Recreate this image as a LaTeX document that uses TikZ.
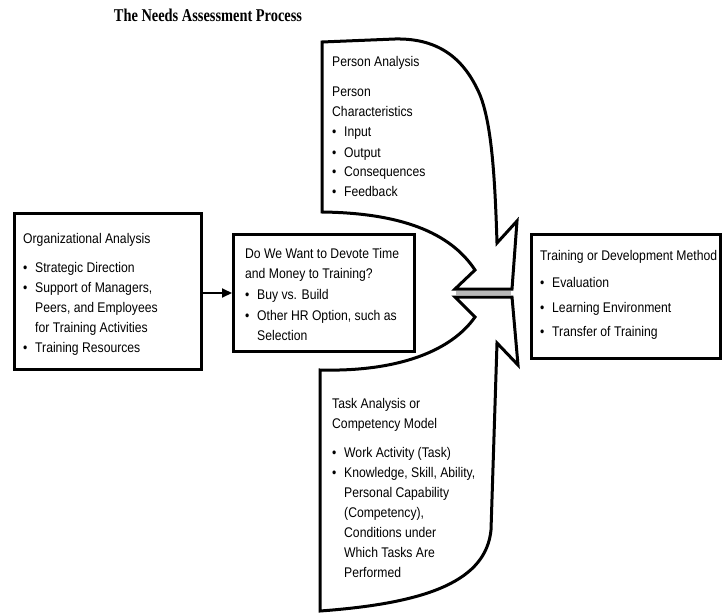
\documentclass[tikz,border=0pt]{standalone}
\usepackage{fontspec}
\usetikzlibrary{arrows.meta}
\newfontfamily\lblfont[FakeStretch=0.87]{Liberation Sans}
\newfontfamily\ttlfont[FakeStretch=0.8]{Liberation Serif}
% bullet item and hanging continuation line
\newcommand\bu[1]{\makebox[12pt][l]{\textbullet}#1}
\newcommand\hang[1]{\hspace*{12pt}#1}
% text block whose base anchor is the first line's baseline
\newcommand\blk[1]{\begin{tabular}[t]{@{}l@{}}#1\end{tabular}}
\begin{document}
\begin{tikzpicture}[x=1pt,y=-1pt,
  frame/.style={draw=black,line width=3pt,inner sep=0pt,anchor=north west},
  outline/.style={draw=black,line width=3pt,line join=miter,fill=white},
  lbl/.style={anchor=base west,inner sep=0pt,font=\lblfont\fontsize{14}{20}\selectfont},
  ttl/.style={inner sep=0pt,font=\ttlfont\bfseries\fontsize{18}{20}\selectfont},
  link/.style={draw=black,line width=2pt,-{Triangle[length=10pt,width=9pt]}}]
\useasboundingbox (0,0) rectangle (722,615);

\node[ttl] (title) at (208,15) {The Needs Assessment Process};

% person analysis panel (upper half of the merging arrow)
\path[outline] (322,42) -- (395,39)
  .. controls (440,38) and (465,60) .. (480,95)
  .. controls (492,125) and (495,180) .. (497,243)
  -- (517,221) -- (512,289) -- (455,289) -- (475,270)
  .. controls (450,232) and (400,213) .. (322,212) -- cycle;

% task analysis panel (lower half of the merging arrow)
\path[outline] (320,370)
  .. controls (400,372) and (452,350) .. (475,317)
  -- (455,297) -- (512,297) -- (518,365) -- (497,343)
  -- (491,530) .. controls (486,580) and (430,603) .. (320,611) -- cycle;

% shaft between the two panels
\fill[gray!55] (456,291) rectangle (511,295);

% boxes
\node[frame,minimum width=187pt,minimum height=156pt] (org) at (13,212) {};
\node[frame,minimum width=181pt,minimum height=117pt] (do) at (232,233) {};
\node[frame,minimum width=189pt,minimum height=124pt] (train) at (530,233) {};

\draw[link] (org.east |- 0,293) -- (do.west |- 0,293);

% texts
\node[lbl] (orgtxt) at (23,243) {\blk{Organizational Analysis\\[9pt]
  \bu{Strategic Direction}\\
  \bu{Support of Managers,}\\
  \hang{Peers, and Employees}\\
  \hang{for Training Activities}\\
  \bu{Training Resources}}};

\node[lbl] (dotxt) at (245,258) {\blk{Do We Want to Devote Time\\
  and Money to Training?\\[1pt]
  \bu{Buy vs. Build}\\[1pt]
  \bu{Other HR Option, such as}\\
  \hang{Selection}}};

\node[lbl] (pertxt) at (332,67) {\blk{Person Analysis\\[10pt]
  Person\\
  Characteristics\\
  \bu{Input}\\
  \bu{Output}\\
  \bu{Consequences}\\
  \bu{Feedback}}};

\node[lbl] (tasktxt) at (332,408) {\blk{Task Analysis or\\
  Competency Model\\[9pt]
  \bu{Work Activity (Task)}\\
  \bu{Knowledge, Skill, Ability,}\\
  \hang{Personal Capability}\\
  \hang{(Competency),}\\
  \hang{Conditions under}\\
  \hang{Which Tasks Are}\\
  \hang{Performed}}};

\node[lbl] (traintxt) at (540,260) {\blk{Training or Development Method\\[7pt]
  \bu{Evaluation}\\[5pt]
  \bu{Learning Environment}\\[4pt]
  \bu{Transfer of Training}}};
\end{tikzpicture}
\end{document}
